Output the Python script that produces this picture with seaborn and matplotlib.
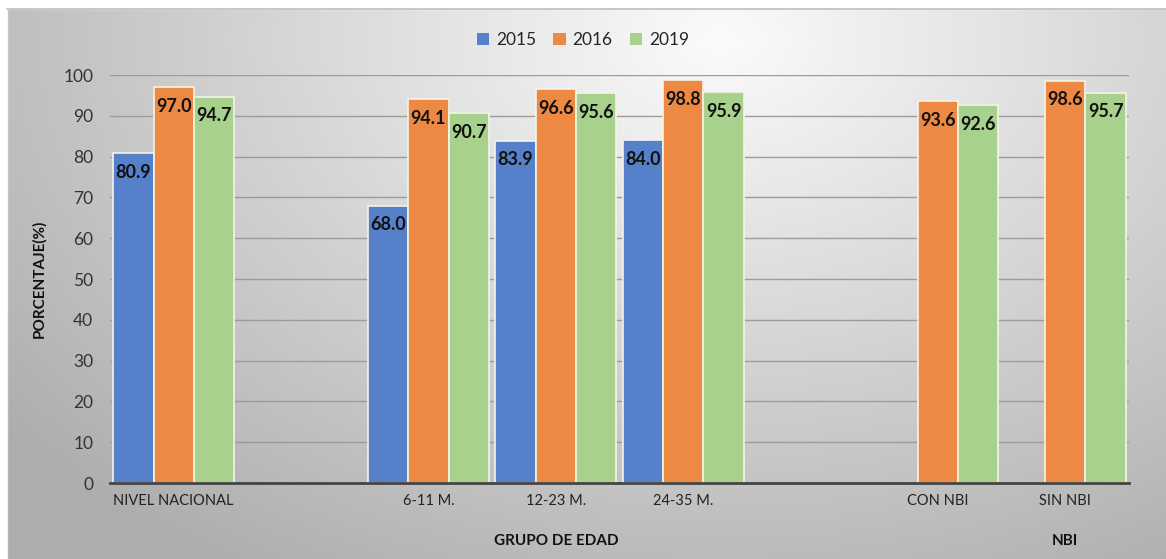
import numpy as np
import pandas as pd
import matplotlib
matplotlib.use("Agg")
import matplotlib.pyplot as plt
import seaborn as sns
from matplotlib.patches import Patch

categories = ["NIVEL NACIONAL", " ", "6-11 M.", "12-23 M.", "24-35 M.", "  ", "CON NBI", "SIN NBI"]
years = ["2015", "2016", "2019"]
v2015 = [80.9, np.nan, 68.0, 83.9, 84.0, np.nan, np.nan, np.nan]
v2016 = [97.0, np.nan, 94.1, 96.6, 98.8, np.nan, 93.6, 98.6]
v2019 = [94.7, np.nan, 90.7, 95.6, 95.9, np.nan, 92.6, 95.7]
yticks = [0, 10, 20, 30, 40, 50, 60, 70, 80, 90, 100]
group_labels = ["GRUPO DE EDAD", "NBI"]
group_under = ["12-23 M.", "SIN NBI"]
colors = ["#5680C9", "#EE8944", "#A8D18D"]

rows = []
for y, vals in zip(years, [v2015, v2016, v2019]):
    for c, v in zip(categories, vals):
        if not np.isnan(v):
            rows.append({"cat": c, "year": y, "val": v})
df = pd.DataFrame(rows)

sns.set_theme(style="white")
plt.rcParams["font.family"] = ["Lato", "DejaVu Sans"]

fig = plt.figure(figsize=(11.66, 5.59), dpi=100)

# background gradient
bg = fig.add_axes([0, 0, 1, 1], zorder=-10)
H, W = 280, 583
yy, xx = np.mgrid[0:H, 0:W]
xs = xx / (W - 1) * 1166
ys = yy / (H - 1) * 559
d = np.sqrt(((xs - 720) / 900) ** 2 + ((ys - 40) / 620) ** 2)
g = np.clip(0.985 - 0.30 * d, 0.68, 1.0)
img = np.dstack([g, g, g])
mask = (xs < 7) | (ys < 9)
img[mask] = 1.0
bg.imshow(img, extent=[0, 1, 0, 1], aspect="auto", origin="upper")
bg.plot([7 / 1166, 1], [1 - 9 / 559, 1 - 9 / 559], color="#bdbdbd", lw=1.2)
bg.set_xlim(0, 1); bg.set_ylim(0, 1)
bg.axis("off")

ax = fig.add_axes([110 / 1166, 1 - 483 / 559, (1129 - 110) / 1166, (483 - 75) / 559])
ax.set_facecolor("none")
sns.barplot(data=df, x="cat", y="val", hue="year", order=categories, hue_order=years,
            palette=colors, saturation=1, width=0.95, errorbar=None, ax=ax,
            edgecolor="#f4f4e8", linewidth=1.2, legend=False, zorder=3)

for cont in ax.containers:
    ax.bar_label(cont, fmt="%.1f", label_type="edge", padding=-20,
                 fontsize=13, fontweight="bold", color="#111111", zorder=5)

ax.set_ylim(0, 100)
ax.set_xlim(-0.5, len(categories) - 0.5)
ax.set_yticks(yticks)
ax.yaxis.grid(True, color="#9c9c9c", lw=1.0, zorder=0)
ax.set_axisbelow(True)
for s in ["top", "right", "left"]:
    ax.spines[s].set_visible(False)
ax.spines["bottom"].set_color("#444444")
ax.spines["bottom"].set_linewidth(2.0)
ax.spines["bottom"].set_zorder(4)
ax.tick_params(axis="y", length=0, labelsize=12.5, labelcolor="#333333", pad=12)
ax.tick_params(axis="x", which="major", length=0, labelsize=10.5, labelcolor="#222222", pad=8)
ax.set_xticks(np.arange(-0.5, len(categories), 1.0), minor=True)
ax.tick_params(axis="x", which="minor", length=4, width=2, color="#444444", direction="out")
ax.set_xticklabels([c.strip() for c in categories])
ax.set_xlabel("")
ax.set_ylabel("PORCENTAJE(%)", fontsize=11, fontweight="bold", color="#111111", labelpad=12)

for lab, under in zip(group_labels, group_under):
    idx = categories.index(under)
    xt = (110 + (idx + 0.5) * (1129 - 110) / len(categories)) / 1166
    fig.text(xt, 1 - 541 / 559, lab, ha="center", va="center", fontsize=11,
             fontweight="bold", color="#111111")

handles = [Patch(facecolor=c, edgecolor="none") for c in colors]
fig.legend(handles, years, loc="center", bbox_to_anchor=(0.5, 1 - 40 / 559), ncol=3,
           frameon=False, fontsize=12.5, handlelength=0.7, handleheight=0.7,
           handletextpad=0.4, columnspacing=1.0)

fig.savefig("out.png", dpi=100)
